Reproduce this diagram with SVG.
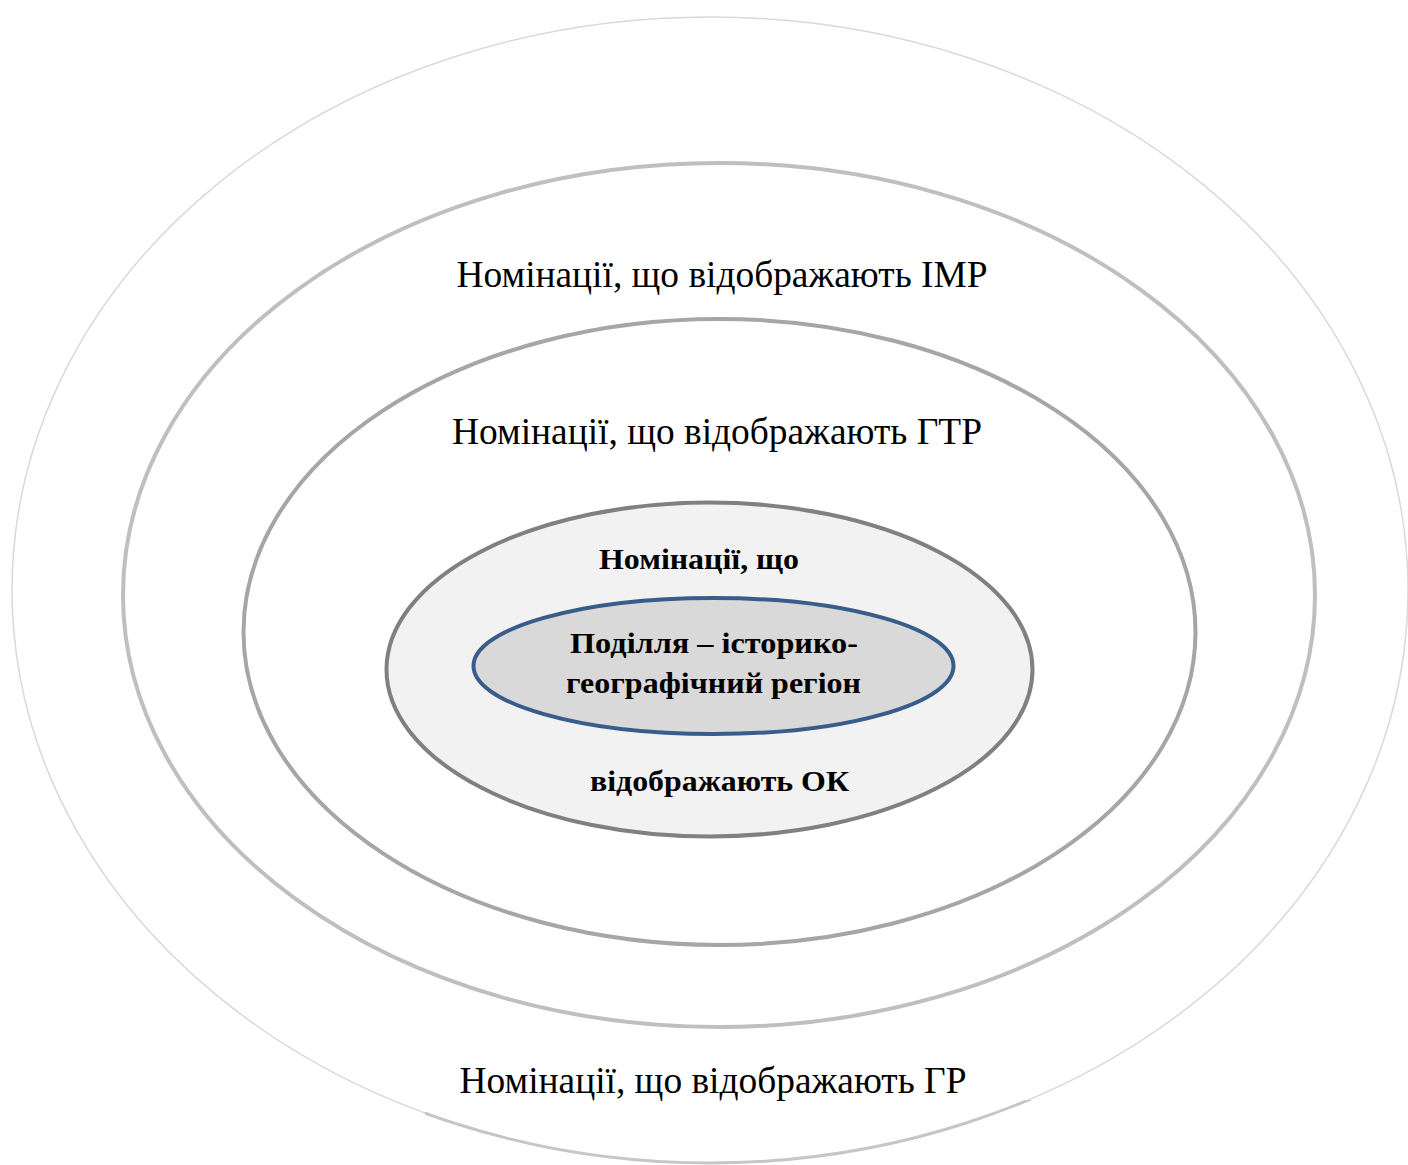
<svg xmlns="http://www.w3.org/2000/svg" width="1408" height="1165" viewBox="0 0 1408 1165">
<style>
.reg{font-family:'Liberation Serif',serif;font-size:37px;fill:#000;text-anchor:middle}
.bold{font-family:'Liberation Serif',serif;font-size:29px;font-weight:bold;fill:#000;text-anchor:middle}
</style>
<defs>
<clipPath id="bottomClip"><rect x="425" y="1100" width="625" height="70"/></clipPath>
</defs>
<rect width="1408" height="1165" fill="#fff"/>
<g id="ring-gr">
<ellipse cx="710" cy="590" rx="698" ry="573" fill="none" stroke="#d9d9d9" stroke-width="1.5"/>
<ellipse cx="710" cy="590" rx="698" ry="573" fill="none" stroke="#c6c6c6" stroke-width="3" clip-path="url(#bottomClip)"/>
<text class="reg" x="713" y="1093" textLength="507" lengthAdjust="spacingAndGlyphs">Номінації, що відображають ГР</text>
</g>
<g id="ring-imr">
<ellipse cx="719" cy="595" rx="596" ry="432" fill="none" stroke="#bfbfbf" stroke-width="4"/>
<text class="reg" x="722" y="287" textLength="531" lengthAdjust="spacingAndGlyphs">Номінації, що відображають ІМР</text>
</g>
<g id="ring-gtr">
<ellipse cx="719.5" cy="632" rx="476" ry="313" fill="none" stroke="#a6a6a6" stroke-width="4"/>
<text class="reg" x="717" y="444" textLength="530" lengthAdjust="spacingAndGlyphs">Номінації, що відображають ГТР</text>
</g>
<g id="ring-ok">
<ellipse cx="709.5" cy="669.5" rx="323" ry="167" fill="#f2f2f2" stroke="#808080" stroke-width="4"/>
<text class="bold" x="699" y="569" textLength="200" lengthAdjust="spacingAndGlyphs">Номінації, що</text>
<text class="bold" x="719.5" y="791" textLength="259" lengthAdjust="spacingAndGlyphs">відображають ОК</text>
</g>
<g id="core">
<ellipse cx="713.5" cy="666" rx="240" ry="68" fill="#d9d9d9" stroke="#385d8a" stroke-width="4"/>
<text class="bold" x="714" y="653" textLength="288" lengthAdjust="spacingAndGlyphs">Поділля – історико-</text>
<text class="bold" x="713.5" y="693" textLength="295" lengthAdjust="spacingAndGlyphs">географічний регіон</text>
</g>
<g id="connectors"></g>
</svg>
